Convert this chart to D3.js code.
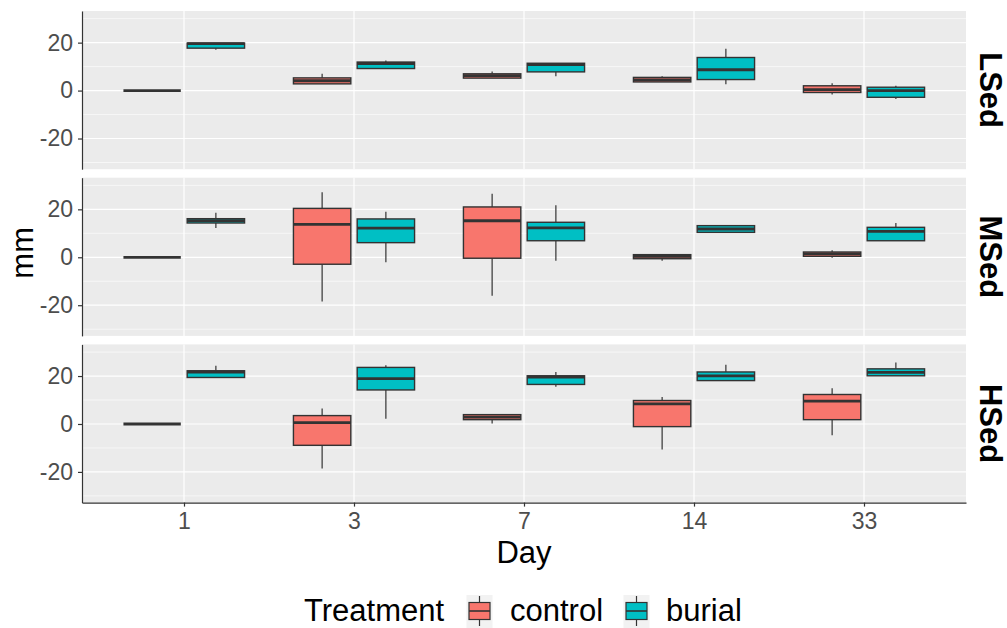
<!DOCTYPE html>
<html>
<head>
<meta charset="utf-8">
<script src="https://cdn.jsdelivr.net/npm/d3@7"></script>
<style>
  html, body { margin: 0; padding: 0; background: #ffffff; }
  svg { display: block; font-family: "Liberation Sans", Arial, sans-serif; }
</style>
</head>
<body>
<svg id="chart" width="1007" height="628"></svg>
<script>
// Categories
const days = ["1", "3", "7", "14", "33"];
const sediments = ["LSed", "MSed", "HSed"];
const treatments = ["control", "burial"];
const yTicks = [-20, 0, 20];

// Box summaries per day: [min, q1, median, q3, max] (mm)
const lsedControl = [[0, 0, 0, 0, 0], [2.7, 2.8, 4.1, 5.3, 7.0], [5.2, 5.2, 6.2, 7.0, 8.0], [3.6, 3.6, 4.5, 5.5, 6.0], [-1.6, -0.8, 0.4, 2.0, 3.1]];
const lsedBurial  = [[17.0, 17.7, 19.6, 19.8, 19.9], [9.2, 9.2, 11.3, 11.9, 12.6], [6.0, 7.8, 10.8, 11.4, 11.4], [2.6, 4.6, 8.7, 13.8, 17.5], [-3.5, -2.8, 0.0, 1.4, 2.0]];
const msedControl = [[0, 0, 0, 0, 0], [-18.5, -2.9, 13.75, 20.4, 27.1], [-16.0, -0.4, 15.25, 21.0, 26.5], [-1.5, -0.6, 0.4, 1.1, 1.1], [-0.2, 0.4, 1.4, 2.2, 2.9]];
const msedBurial  = [[12.2, 14.3, 15.3, 16.1, 18.6], [-2.1, 6.1, 12.2, 16.0, 19.0], [-1.5, 6.9, 12.3, 14.6, 21.7], [10.4, 10.4, 11.8, 13.2, 13.2], [6.9, 6.9, 10.8, 12.5, 14.3]];
const hsedControl = [[0, 0, 0, 0, 0], [-18.6, -8.9, 0.6, 3.5, 6.5], [0.2, 1.8, 2.9, 3.9, 3.9], [-10.6, -1.1, 8.4, 9.8, 11.3], [-4.7, 1.8, 9.5, 12.3, 14.9]];
const hsedBurial  = [[19.4, 19.4, 21.6, 22.2, 24.3], [2.2, 14.2, 18.9, 23.6, 24.5], [15.5, 16.5, 19.6, 20.1, 21.7], [18.1, 18.1, 20.1, 21.7, 24.7], [20.1, 20.1, 21.5, 23.0, 25.6]];

const panelData = {
  LSed: { control: lsedControl, burial: lsedBurial },
  MSed: { control: msedControl, burial: msedBurial },
  HSed: { control: hsedControl, burial: hsedBurial }
};

const fillColor = d3.scaleOrdinal().domain(treatments).range(["#F8766D", "#00BFC4"]);

const svg = d3.select("#chart");
const plotLeft = 82, plotRight = 966, plotTop = 11, panelH = 158.2, panelGap = 8.5;

const x = d3.scalePoint().domain(days).range([plotLeft, plotRight]).padding(0.6);
const step = x.step();
const xInner = d3.scaleBand().domain(treatments).range([-0.375 * step, 0.375 * step]);
const boxW = xInner.bandwidth() * 0.9;

const ink = "#333333";

sediments.forEach((sed, pi) => {
  const y0 = plotTop + pi * (panelH + panelGap);
  const y = d3.scaleLinear().domain([-32.8, 33.2]).range([y0 + panelH, y0]);
  const g = svg.append("g");

  // panel background
  g.append("rect").attr("x", plotLeft).attr("y", y0).attr("width", plotRight - plotLeft).attr("height", panelH).attr("fill", "#EBEBEB");

  // minor grid
  g.selectAll(".minor").data([-30, -10, 10, 30]).join("line")
    .attr("x1", plotLeft).attr("x2", plotRight)
    .attr("y1", d => y(d)).attr("y2", d => y(d))
    .attr("stroke", "#ffffff").attr("stroke-width", 0.6);
  // major grid
  g.selectAll(".major").data(yTicks).join("line")
    .attr("x1", plotLeft).attr("x2", plotRight)
    .attr("y1", d => y(d)).attr("y2", d => y(d))
    .attr("stroke", "#ffffff").attr("stroke-width", 1.2);
  g.selectAll(".vmajor").data(days).join("line")
    .attr("x1", d => x(d)).attr("x2", d => x(d))
    .attr("y1", y0).attr("y2", y0 + panelH)
    .attr("stroke", "#ffffff").attr("stroke-width", 1.2);

  // boxplots
  treatments.forEach(tr => {
    const stats = panelData[sed][tr];
    days.forEach((day, di) => {
      const [mn, q1, med, q3, mx] = stats[di];
      const cx = x(day) + xInner(tr) + xInner.bandwidth() / 2;
      const bg = g.append("g");
      bg.append("line").attr("x1", cx).attr("x2", cx).attr("y1", y(q3)).attr("y2", y(mx))
        .attr("stroke", ink).attr("stroke-width", 1.2);
      bg.append("line").attr("x1", cx).attr("x2", cx).attr("y1", y(q1)).attr("y2", y(mn))
        .attr("stroke", ink).attr("stroke-width", 1.2);
      bg.append("rect")
        .attr("x", cx - boxW / 2).attr("width", boxW)
        .attr("y", y(q3)).attr("height", Math.max(0, y(q1) - y(q3)))
        .attr("fill", fillColor(tr)).attr("stroke", ink).attr("stroke-width", 1.4);
      bg.append("line").attr("x1", cx - boxW / 2).attr("x2", cx + boxW / 2)
        .attr("y1", y(med)).attr("y2", y(med))
        .attr("stroke", ink).attr("stroke-width", 2.8);
    });
  });

  // y axis (plain hyphen for negative labels)
  const ax = g.append("g").attr("transform", `translate(${plotLeft},0)`)
    .call(d3.axisLeft(y).tickValues(yTicks).tickFormat(d => String(d))
      .tickSizeInner(4).tickSizeOuter(0).tickPadding(5));
  ax.select(".domain").attr("stroke", ink).attr("stroke-width", 1.2);
  ax.selectAll(".tick line").attr("stroke", ink).attr("stroke-width", 1.2);
  ax.selectAll(".tick text").attr("fill", "#4D4D4D").style("font-size", "23px")
    .style("font-family", "'Liberation Sans', Arial, sans-serif");

  // strip label, read top to bottom
  g.append("text")
    .attr("transform", `translate(980,${y0 + panelH / 2}) rotate(90)`)
    .attr("text-anchor", "middle")
    .style("font-size", "31px").style("font-weight", "bold").attr("fill", "#000")
    .text(sed);

  if (pi === sediments.length - 1) {
    const bx = g.append("g").attr("transform", `translate(0,${y0 + panelH})`)
      .call(d3.axisBottom(x).tickSizeInner(4).tickSizeOuter(0).tickPadding(6));
    bx.select(".domain").attr("stroke", ink).attr("stroke-width", 1.2);
    bx.selectAll(".tick line").attr("stroke", ink).attr("stroke-width", 1.2);
    bx.selectAll(".tick text").attr("fill", "#4D4D4D").style("font-size", "23px")
      .style("font-family", "'Liberation Sans', Arial, sans-serif");
  }
});

// axis titles
svg.append("text").attr("x", (plotLeft + plotRight) / 2).attr("y", 563)
  .attr("text-anchor", "middle").style("font-size", "31px").attr("fill", "#000").text("Day");
svg.append("text").attr("transform", `translate(33,${plotTop + (3 * panelH + 2 * panelGap) / 2 - 4}) rotate(-90)`)
  .attr("text-anchor", "middle").style("font-size", "31px").attr("fill", "#000").text("mm");

// legend
const legend = svg.append("g");
const legendBase = 621;
legend.append("text").attr("x", 304).attr("y", legendBase).style("font-size", "31px").attr("fill", "#000").text("Treatment");
const keyX = { control: 466.5, burial: 623.5 };
const labelX = { control: 510, burial: 666 };
treatments.forEach(tr => {
  const kx = keyX[tr];
  const k = legend.append("g");
  k.append("rect").attr("x", kx).attr("y", 595).attr("width", 26).attr("height", 33).attr("fill", "#F2F2F2");
  k.append("line").attr("x1", kx + 13).attr("x2", kx + 13).attr("y1", 596).attr("y2", 626)
    .attr("stroke", ink).attr("stroke-width", 1.2);
  k.append("rect").attr("x", kx + 2.5).attr("y", 602.5).attr("width", 21).attr("height", 17)
    .attr("fill", fillColor(tr)).attr("stroke", ink).attr("stroke-width", 1.2);
  k.append("line").attr("x1", kx + 2.5).attr("x2", kx + 23.5).attr("y1", 611).attr("y2", 611)
    .attr("stroke", ink).attr("stroke-width", 1.6);
  legend.append("text").attr("x", labelX[tr]).attr("y", legendBase).style("font-size", "31px").attr("fill", "#000").text(tr);
});
</script>
</body>
</html>
